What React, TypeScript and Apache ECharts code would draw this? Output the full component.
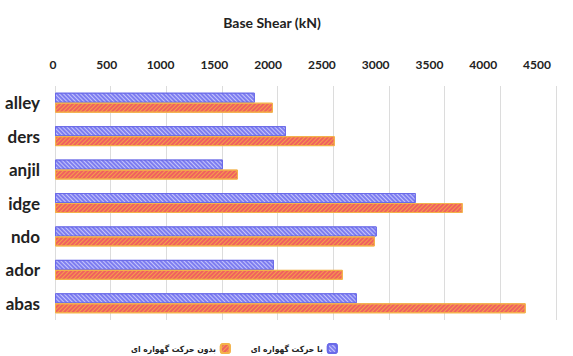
import React, { useEffect, useRef } from "react";
import * as echarts from "echarts";

// Earthquake records (labels as shown on the axis)
const records = ["alley", "ders", "anjil", "idge", "ndo", "ador", "abas"];
// Base shear with rocking motion (kN)
const withRocking = [1795, 2074, 1508, 3240, 2890, 1966, 2711];
// Base shear without rocking motion (kN)
const withoutRocking = [1957, 2513, 1643, 3662, 2873, 2585, 4228];

const seriesNames = ["با حرکت گهواره ای", "بدون حرکت گهواره ای"];
const axisMax = 4500;
const axisStep = 500;

export default function App() {
  const ref = useRef<HTMLDivElement>(null);

  useEffect(() => {
    if (!ref.current) return;
    const chart = echarts.init(ref.current, undefined, { renderer: "svg" });
    chart.setOption({
      animation: false,
      backgroundColor: "#ffffff",
      title: {
        text: "Base Shear (kN)",
        left: 267,
        top: 10,
        textAlign: "center",
        textStyle: {
          fontFamily: "Lato",
          fontWeight: "bold",
          fontSize: 14,
          color: "#222222",
        },
      },
      legend: {
        data: [seriesNames[1], seriesNames[0]],
        left: 126,
        top: 338,
        align: "right",
        itemWidth: 9,
        itemHeight: 9,
        itemGap: 20,
        textStyle: {
          fontFamily: "DejaVu Sans Condensed",
          fontWeight: "bold",
          fontSize: 8.5,
          color: "#222222",
        },
      },
      grid: [
        { left: 55, right: 17, top: 86, bottom: 36 },
        { left: 53, right: 36, top: 86, bottom: 36 },
      ],
      xAxis: [
        {
          gridIndex: 0,
          type: "value",
          position: "top",
          min: 0,
          max: axisMax,
          interval: axisStep,
          axisLine: { show: false },
          axisTick: { show: false },
          axisLabel: { show: false },
          splitLine: { show: true, lineStyle: { color: "#dcdcdc", width: 1 } },
        },
        {
          gridIndex: 1,
          type: "value",
          position: "top",
          min: 0,
          max: axisMax,
          interval: axisStep,
          axisLine: { show: false },
          axisTick: { show: false },
          splitLine: { show: false },
          axisLabel: {
            margin: 16,
            formatter: (v: number) => String(v),
            fontFamily: "Lato",
            fontWeight: "bold",
            fontSize: 12,
            color: "#222222",
          },
        },
      ],
      yAxis: [
        {
          gridIndex: 0,
          type: "category",
          data: records,
          inverse: true,
          axisLine: { show: false },
          axisTick: { show: false },
          axisLabel: {
            margin: 15,
            fontFamily: "Lato",
            fontWeight: "bold",
            fontSize: 17,
            color: "#222222",
          },
        },
        {
          gridIndex: 1,
          type: "category",
          data: records,
          show: false,
        },
      ],
      series: [
        {
          name: seriesNames[0],
          type: "bar",
          xAxisIndex: 0,
          yAxisIndex: 0,
          data: withRocking,
          barWidth: 10,
          barGap: "0%",
          itemStyle: {
            color: "#7d7df0",
            borderColor: "#6a6ae8",
            borderWidth: 1,
            decal: {
              symbol: "rect",
              color: "rgba(220,220,255,0.75)",
              dashArrayX: [1, 0],
              dashArrayY: [1, 2],
              rotation: Math.PI / 4,
            },
          },
        },
        {
          name: seriesNames[1],
          type: "bar",
          xAxisIndex: 0,
          yAxisIndex: 0,
          data: withoutRocking,
          barWidth: 10,
          barGap: "0%",
          itemStyle: {
            color: "#f06060",
            borderColor: "#f3b24a",
            borderWidth: 1,
            decal: {
              symbol: "rect",
              color: "rgba(245,170,70,0.85)",
              dashArrayX: [1, 0],
              dashArrayY: [1, 2],
              rotation: -Math.PI / 4,
            },
          },
        },
      ],
    });
    return () => chart.dispose();
  }, []);

  return <div ref={ref} style={{ width: 573, height: 356, position: "absolute", left: 0, top: 0 }} />;
}
